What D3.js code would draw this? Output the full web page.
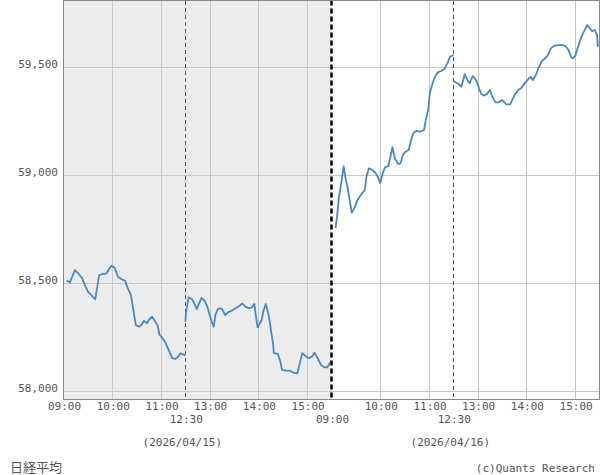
<!DOCTYPE html>
<html>

<head>
    <meta charset="UTF-8">
    <style>
        body { margin: 0; background: #fff; }
        text { font-family: "DejaVu Sans Mono", monospace; font-size: 11px; fill: #555; }
    </style>
</head>

<body>
    <svg></svg>
    <script src="https://d3js.org/d3.v7.min.js"></script>
    <script>
        let width = 600,
            height = 475;

        // 2026/04/15
        let d1amTimes = ["09:04", "09:08", "09:14", "09:19", "09:23", "09:26", "09:30", "09:34", "09:39", "09:41",
            "09:44", "09:48", "09:53", "09:56", "09:59", "10:03", "10:07", "10:11", "10:16", "10:19", "10:23",
            "10:25", "10:27", "10:29", "10:33", "10:36", "10:39", "10:43", "10:45", "10:49", "10:52", "10:56",
            "10:58", "11:02", "11:06", "11:10", "11:14", "11:18", "11:21", "11:24", "11:27", "11:30"];
        let d1amValues = [58512, 58505, 58561, 58542, 58523, 58495, 58461, 58446, 58426, 58469,
            58538, 58543, 58546, 58566, 58581, 58572, 58530, 58520, 58511, 58477, 58446,
            58400, 58353, 58307, 58299, 58307, 58325, 58315, 58330, 58345, 58329, 58304,
            58264, 58245, 58222, 58187, 58153, 58150, 58160, 58176, 58171, 58165];

        let d1pmTimes = ["12:30", "12:31", "12:34", "12:38", "12:41", "12:44", "12:47", "12:50", "12:54", "12:57",
            "13:00", "13:03", "13:05", "13:07", "13:10", "13:14", "13:16", "13:19", "13:22", "13:27", "13:32",
            "13:37", "13:40", "13:44", "13:48", "13:52", "13:55", "13:57", "13:59", "14:04", "14:06", "14:09",
            "14:12", "14:14", "14:16", "14:18", "14:19", "14:24", "14:27", "14:29", "14:34", "14:39", "14:43",
            "14:48", "14:51", "14:54", "14:58", "15:02", "15:06", "15:09", "15:13", "15:17", "15:21", "15:25", "15:29"];
        let d1pmValues = [58322, 58369, 58435, 58427, 58407, 58380, 58407, 58432, 58418, 58392,
            58353, 58315, 58299, 58353, 58381, 58384, 58376, 58353, 58364, 58373, 58384,
            58396, 58407, 58392, 58384, 58389, 58404, 58345, 58296, 58330, 58369, 58404,
            58361, 58322, 58268, 58222, 58176, 58173, 58137, 58099, 58095, 58095, 58086,
            58083, 58130, 58176, 58163, 58153, 58160, 58179, 58153, 58122, 58111, 58111, 58137];

        // 2026/04/16
        let d2amTimes = ["09:05", "09:07", "09:09", "09:12", "09:15", "09:17", "09:20", "09:23", "09:25", "09:28",
            "09:32", "09:37", "09:41", "09:43", "09:46", "09:50", "09:54", "09:57", "10:00", "10:03", "10:06",
            "10:10", "10:13", "10:15", "10:18", "10:22", "10:25", "10:28", "10:31", "10:35", "10:38", "10:41",
            "10:45", "10:49", "10:54", "10:56", "10:59", "11:01", "11:05", "11:08", "11:11", "11:15", "11:19",
            "11:23", "11:26", "11:30"];
        let d2amValues = [58755, 58816, 58893, 58963, 59043, 58993, 58940, 58870, 58827, 58847,
            58886, 58913, 58932, 58993, 59032, 59025, 59012, 58993, 58963, 59009, 59037,
            59043, 59094, 59130, 59079, 59052, 59056, 59094, 59109, 59117, 59163, 59197,
            59206, 59202, 59210, 59256, 59302, 59380, 59433, 59460, 59477, 59483, 59492,
            59521, 59549, 59557];

        let d2pmTimes = ["12:30", "12:34", "12:37", "12:40", "12:44", "12:47", "12:50", "12:54", "12:58", "13:01",
            "13:04", "13:07", "13:11", "13:15", "13:18", "13:22", "13:26", "13:30", "13:33", "13:35", "13:40",
            "13:43", "13:46", "13:50", "13:54", "13:58", "14:02", "14:05", "14:08", "14:12", "14:15", "14:19",
            "14:23", "14:26", "14:30", "14:34", "14:39", "14:44", "14:48", "14:52", "14:55", "14:57", "15:00",
            "15:03", "15:07", "15:11", "15:15", "15:18", "15:21", "15:24", "15:27", "15:28"];
        let d2pmValues = [59437, 59429, 59421, 59410, 59468, 59444, 59426, 59460, 59441, 59410,
            59380, 59369, 59375, 59395, 59364, 59338, 59338, 59349, 59338, 59329, 59329,
            59353, 59375, 59395, 59406, 59426, 59444, 59456, 59441, 59468, 59498, 59529,
            59542, 59554, 59588, 59599, 59603, 59603, 59599, 59580, 59549, 59542, 59552,
            59588, 59634, 59668, 59696, 59681, 59668, 59673, 59650, 59595];

        let dates = ["(2026/04/15)", "(2026/04/16)"];
        let yTicks = [58000, 58500, 59000, 59500];
        let hourTicks = ["10:00", "11:00", "13:00", "14:00", "15:00"];
        let title = "日経平均";
        let credit = "(c)Quants Research";

        // minutes since session open (lunch 11:30-12:30 removed), 330 per day
        function idx(day, t) {
            let [h, m] = t.split(":").map(Number);
            let mm = h * 60 + m - 540;
            if (mm > 150) mm -= 60;
            return day * 330 + mm;
        }

        let plotLeft = 63.5, plotRight = 599.5, plotTop = 0.5, plotBottom = 399.5;

        let x = d3.scaleLinear().domain([0, 660]).range([plotLeft, plotRight]);
        let y = d3.scaleLinear().domain([57964, 59812]).range([399, 0]);
        let px = v => Math.round(v) + 0.5;

        let svg = d3.select("svg")
            .attr("width", width)
            .attr("height", height);

        // day 1 background
        svg.append("rect")
            .attr("x", plotLeft)
            .attr("y", plotTop)
            .attr("width", x(330) - plotLeft)
            .attr("height", plotBottom - plotTop)
            .attr("fill", "#ececec");

        let grid = svg.append("g")
            .attr("stroke", "#c8c8c8")
            .attr("stroke-width", 1)
            .attr("shape-rendering", "crispEdges");

        grid.selectAll(".h")
            .data(yTicks)
            .enter()
            .append("line")
            .attr("x1", plotLeft)
            .attr("x2", plotRight)
            .attr("y1", d => px(y(d)))
            .attr("y2", d => px(y(d)));

        let vTicks = [];
        [0, 1].forEach(day => hourTicks.forEach(t => vTicks.push(idx(day, t))));
        grid.selectAll(".v")
            .data(vTicks)
            .enter()
            .append("line")
            .attr("x1", d => px(x(d)))
            .attr("x2", d => px(x(d)))
            .attr("y1", plotTop)
            .attr("y2", plotBottom);

        // lunch break lines
        svg.selectAll(".lunch")
            .data([idx(0, "12:30"), idx(1, "12:30")])
            .enter()
            .append("line")
            .attr("x1", d => px(x(d)))
            .attr("x2", d => px(x(d)))
            .attr("y1", plotTop)
            .attr("y2", plotBottom)
            .attr("stroke", "#555")
            .attr("stroke-dasharray", "4,3")
            .attr("shape-rendering", "crispEdges");

        // line
        let sessions = [
            [0, d1amTimes, d1amValues], [0, d1pmTimes, d1pmValues],
            [1, d2amTimes, d2amValues], [1, d2pmTimes, d2pmValues]
        ];
        let line = d3.line()
            .x(d => x(d[0]))
            .y(d => y(d[1]));

        svg.append("g")
            .selectAll("path")
            .data(sessions.map(s => s[1].map((t, i) => [idx(s[0], t), s[2][i]])))
            .enter()
            .append("path")
            .attr("d", line)
            .attr("fill", "none")
            .attr("stroke", "#4a89c0")
            .attr("stroke-width", 1.8)
            .attr("stroke-linejoin", "round");

        // day boundary
        svg.append("line")
            .attr("x1", x(330))
            .attr("x2", x(330))
            .attr("y1", plotTop)
            .attr("y2", plotBottom)
            .attr("stroke", "#000")
            .attr("stroke-width", 2.5)
            .attr("stroke-dasharray", "5,3");

        // frame
        svg.append("rect")
            .attr("x", plotLeft)
            .attr("y", plotTop)
            .attr("width", plotRight - plotLeft)
            .attr("height", plotBottom - plotTop)
            .attr("fill", "none")
            .attr("stroke", "#888")
            .attr("shape-rendering", "crispEdges");

        // y labels
        svg.selectAll(".ylab")
            .data(yTicks)
            .enter()
            .append("text")
            .attr("x", 58)
            .attr("y", d => y(d) + 0.5)
            .attr("text-anchor", "end")
            .text(d => d3.format(",")(d));

        // x labels
        let xLabels = [];
        [0, 1].forEach(day => {
            xLabels.push({ i: idx(day, "09:00"), t: "09:00", row: day });
            hourTicks.forEach(t => xLabels.push({ i: idx(day, t), t: t, row: 0 }));
            xLabels.push({ i: idx(day, "12:30"), t: "12:30", row: 1 });
        });
        svg.selectAll(".xlab")
            .data(xLabels)
            .enter()
            .append("text")
            .attr("x", d => x(d.i) + 1)
            .attr("y", d => d.row ? 423 : 410)
            .attr("text-anchor", "middle")
            .text(d => d.t);

        svg.selectAll(".date")
            .data(dates)
            .enter()
            .append("text")
            .attr("x", (d, i) => x(idx(i, "12:30")) - 3)
            .attr("y", 446)
            .attr("text-anchor", "middle")
            .text(d => d);

        svg.append("text")
            .attr("x", 10)
            .attr("y", 472)
            .style("font-family", "'Noto Sans CJK JP', sans-serif")
            .style("font-size", "13px")
            .text(title);

        svg.append("text")
            .attr("x", 595)
            .attr("y", 472)
            .attr("text-anchor", "end")
            .text(credit);
    </script>
</body>

</html>
